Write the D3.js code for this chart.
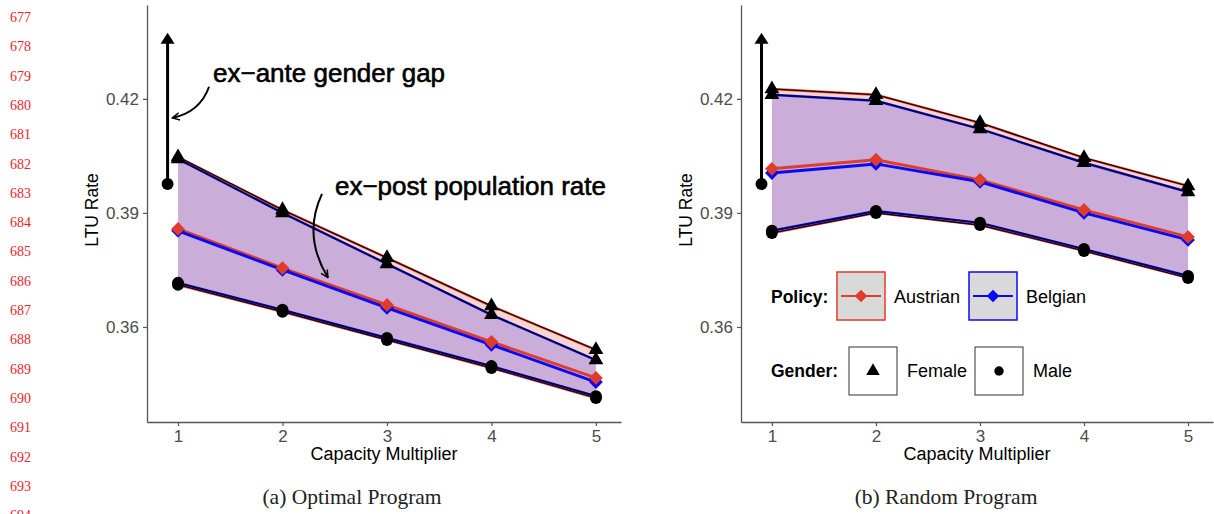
<html>
<head>
  <title>LTU rate by capacity multiplier</title>
  <script src="https://d3js.org/d3.v7.min.js"></script>
  <style>
  body { margin: 0; background: #fff; }
  text { font-family: "Liberation Sans", Arial, sans-serif; }
  </style>
</head>
<body>
<script>

// ---- data ----
var capacity = [1, 2, 3, 4, 5];
var yTicks = [0.36, 0.39, 0.42];
var lineNumbers = d3.range(677, 695);

// (a) Optimal Program
var optFemaleAus = [0.4047, 0.3908, 0.3782, 0.3655, 0.3540];
var optFemaleBel = [0.4042, 0.3900, 0.3766, 0.3632, 0.3513];
var optPopAus    = [0.3858, 0.3755, 0.3658, 0.3561, 0.3466];
var optPopBel    = [0.3853, 0.3750, 0.3650, 0.3553, 0.3455];
var optMaleAus   = [0.3711, 0.3640, 0.3566, 0.3492, 0.3413];
var optMaleBel   = [0.3716, 0.3645, 0.3571, 0.3497, 0.3418];

// (b) Random Program
var rndFemaleAus = [0.4226, 0.4211, 0.4137, 0.4045, 0.3971];
var rndFemaleBel = [0.4211, 0.4195, 0.4121, 0.4032, 0.3955];
var rndPopAus    = [0.4016, 0.4040, 0.3987, 0.3908, 0.3837];
var rndPopBel    = [0.4005, 0.4029, 0.3982, 0.3900, 0.3829];
var rndMaleAus   = [0.3847, 0.3900, 0.3868, 0.3800, 0.3729];
var rndMaleBel   = [0.3853, 0.3905, 0.3874, 0.3805, 0.3734];

// ex-ante gender gap arrow (x, from, to)
var gapX = 0.9, gapFrom = 0.3976, gapTo = 0.4374;

var policies = ['Austrian', 'Belgian'];
var genders = ['Female', 'Male'];

var width = 1214, height = 514;
var red = '#e03c2c', blue = '#0a0af0';

var svg = d3.select('body').append('svg')
  .attr('width', width).attr('height', height);

var defs = svg.append('defs');
defs.append('marker')
  .attr('id', 'openhead')
  .attr('viewBox', '0 0 10 10').attr('refX', 9).attr('refY', 5)
  .attr('markerWidth', 9).attr('markerHeight', 9)
  .attr('markerUnits', 'userSpaceOnUse')
  .attr('orient', 'auto')
  .append('path').attr('d', 'M1,1 L9,5 L1,9')
  .attr('fill', 'none').attr('stroke', '#000').attr('stroke-width', 1.6);

// red line numbers down the margin
svg.append('g').selectAll('text')
  .data(lineNumbers).enter().append('text')
  .attr('x', 10)
  .attr('y', function(d, i) { return 22 + i * 29.3; })
  .style('font-family', '"Liberation Serif", "DejaVu Serif", serif')
  .style('font-size', '14px')
  .attr('fill', '#e8262b')
  .text(function(d) { return d; });

var y = d3.scaleLinear().domain([0.335, 0.4447]).range([422, 5]);

function drawPanel(opt) {
  var x = d3.scaleLinear().domain([0.703, 5.24]).range([opt.left, opt.right]);
  var g = svg.append('g');

  var series = [
    { name: 'Austrian', color: red, fill: red, alpha: 0.22, fem: opt.femAus, male: opt.maleAus, pop: opt.popAus },
    { name: 'Belgian', color: blue, fill: '#0000ff', alpha: 0.18, fem: opt.femBel, male: opt.maleBel, pop: opt.popBel }
  ];

  var area = d3.area()
    .x(function(d, i) { return x(capacity[i]); })
    .y0(function(d) { return y(d[1]); })
    .y1(function(d) { return y(d[0]); });
  var line = d3.line()
    .x(function(d, i) { return x(capacity[i]); })
    .y(function(d) { return y(d); });

  // ribbons between female and male rates
  series.forEach(function(s) {
    g.append('path')
      .datum(s.fem.map(function(v, i) { return [v, s.male[i]]; }))
      .attr('d', area)
      .attr('fill', s.fill).attr('fill-opacity', s.alpha);
  });
  // female / male edge lines
  series.forEach(function(s) {
    [s.fem, s.male].forEach(function(arr) {
      g.append('path').datum(arr).attr('d', line)
        .attr('fill', 'none').attr('stroke', s.color).attr('stroke-width', 2.4);
      g.append('path').datum(arr).attr('d', line)
        .attr('fill', 'none').attr('stroke', '#000').attr('stroke-width', 1.1);
    });
  });
  // population lines
  series.forEach(function(s) {
    g.append('path').datum(s.pop).attr('d', line)
      .attr('fill', 'none').attr('stroke', s.color).attr('stroke-width', 3);
  });
  var diamond = d3.symbol().type(d3.symbolSquare).size(95);
  series.slice().reverse().forEach(function(s) {
    g.selectAll(null).data(s.pop).enter().append('path')
      .attr('d', diamond)
      .attr('transform', function(d, i) { return 'translate(' + x(capacity[i]) + ',' + y(d) + ') rotate(45)'; })
      .attr('fill', s.color);
  });
  var tri = d3.symbol().type(d3.symbolTriangle).size(95);
  series.forEach(function(s) {
    g.selectAll(null).data(s.fem).enter().append('path')
      .attr('d', tri)
      .attr('transform', function(d, i) { return 'translate(' + x(capacity[i]) + ',' + y(d) + ')'; })
      .attr('fill', '#000');
    g.selectAll(null).data(s.male).enter().append('circle')
      .attr('cx', function(d, i) { return x(capacity[i]); })
      .attr('cy', function(d) { return y(d); })
      .attr('r', 6).attr('fill', '#000');
  });

  // ex-ante gender gap arrow
  g.append('line')
    .attr('x1', x(gapX)).attr('x2', x(gapX))
    .attr('y1', y(gapFrom)).attr('y2', y(gapTo) + 10)
    .attr('stroke', '#000').attr('stroke-width', 3);
  g.append('path')
    .attr('d', 'M' + (x(gapX) - 7) + ',' + (y(gapTo) + 11) + 'L' + x(gapX) + ',' + y(gapTo) + 'L' + (x(gapX) + 7) + ',' + (y(gapTo) + 11) + 'Z')
    .attr('fill', '#000');
  g.append('circle').attr('cx', x(gapX)).attr('cy', y(gapFrom)).attr('r', 6).attr('fill', '#000');

  // annotations
  if (opt.annotate) {
    var labels = [
      { text: 'ex\u2212ante gender gap', x: 1.335, y: 0.4245 },
      { text: 'ex\u2212post population rate', x: 2.502, y: 0.3947 }
    ];
    g.selectAll(null).data(labels).enter().append('text')
      .attr('x', function(d) { return x(d.x); })
      .attr('y', function(d) { return y(d.y); })
      .style('font-size', '26px')
      .attr('fill', '#000').attr('stroke', '#000').attr('stroke-width', 0.6)
      .text(function(d) { return d.text; });

    var curves = [
      { from: [1.297, 0.4232], ctrl: [1.21, 0.4165], to: [0.945, 0.415] },
      { from: [2.378, 0.3950], ctrl: [2.19, 0.3840], to: [2.435, 0.3730] }
    ];
    curves.forEach(function(c) {
      var p = d3.path();
      p.moveTo(x(c.from[0]), y(c.from[1]));
      p.quadraticCurveTo(x(c.ctrl[0]), y(c.ctrl[1]), x(c.to[0]), y(c.to[1]));
      g.append('path').attr('d', p.toString())
        .attr('fill', 'none').attr('stroke', '#000').attr('stroke-width', 2)
        .attr('marker-end', 'url(#openhead)');
    });
  }

  // axes
  var yAxis = d3.axisLeft(y).tickValues(yTicks).tickFormat(d3.format('.2f'))
    .tickSize(4).tickSizeOuter(0).tickPadding(4);
  var xAxis = d3.axisBottom(x).tickValues(capacity).tickFormat(d3.format('d'))
    .tickSize(4).tickSizeOuter(0).tickPadding(4);

  var ya = g.append('g').attr('transform', 'translate(' + opt.left + ',0)').call(yAxis);
  var xa = g.append('g').attr('transform', 'translate(0,422)').call(xAxis);
  [ya, xa].forEach(function(a) {
    a.select('.domain').attr('stroke', '#555').attr('stroke-width', 1.3);
    a.selectAll('.tick line').attr('stroke', '#555').attr('stroke-width', 1.2);
    a.selectAll('.tick text').attr('fill', '#4d4d4d')
      .style('font-size', '17px').style('font-family', '"Liberation Sans", Arial, sans-serif');
  });

  g.append('text')
    .attr('transform', 'translate(' + (opt.left - 55) + ',210) rotate(-90)')
    .attr('text-anchor', 'middle').attr('dy', '0.35em')
    .style('font-size', '17.5px').text('LTU Rate');
  g.append('text')
    .attr('x', (opt.left + opt.right) / 2).attr('y', 460)
    .attr('text-anchor', 'middle')
    .style('font-size', '18px').text('Capacity Multiplier');
  g.append('text')
    .attr('x', opt.captionX).attr('y', 504)
    .attr('text-anchor', 'middle')
    .style('font-family', '"Liberation Serif", "DejaVu Serif", serif')
    .style('font-size', '21.5px').attr('fill', '#222')
    .text(opt.caption);

  return { g: g, x: x };
}

drawPanel({
  left: 147, right: 621, captionX: 352, caption: '(a) Optimal Program', annotate: true,
  femAus: optFemaleAus, femBel: optFemaleBel, popAus: optPopAus, popBel: optPopBel,
  maleAus: optMaleAus, maleBel: optMaleBel
});
drawPanel({
  left: 741, right: 1213, captionX: 946, caption: '(b) Random Program', annotate: false,
  femAus: rndFemaleAus, femBel: rndFemaleBel, popAus: rndPopAus, popBel: rndPopBel,
  maleAus: rndMaleAus, maleBel: rndMaleBel
});

// legend inside panel (b)
var legend = svg.append('g');
var policyColors = { Austrian: red, Belgian: blue };

legend.append('text').attr('x', 771).attr('y', 297).attr('dy', '0.35em')
  .style('font-size', '17.5px').style('font-weight', 'bold').text('Policy:');
var pItems = legend.selectAll('g.pol').data(policies).enter().append('g')
  .attr('class', 'pol')
  .attr('transform', function(d, i) { return 'translate(' + (837 + i * 132) + ',272)'; });
pItems.append('rect').attr('width', 48).attr('height', 48)
  .attr('fill', '#d9d9d9')
  .attr('stroke', function(d) { return policyColors[d]; }).attr('stroke-width', 1.5);
pItems.append('line').attr('x1', 4).attr('x2', 44).attr('y1', 24).attr('y2', 24)
  .attr('stroke', function(d) { return policyColors[d]; }).attr('stroke-width', 2);
pItems.append('path')
  .attr('d', d3.symbol().type(d3.symbolSquare).size(80))
  .attr('transform', 'translate(24,24) rotate(45)')
  .attr('fill', function(d) { return policyColors[d]; });
pItems.append('text').attr('x', 57).attr('y', 25).attr('dy', '0.35em')
  .style('font-size', '18px').text(function(d) { return d; });

legend.append('text').attr('x', 771).attr('y', 371).attr('dy', '0.35em')
  .style('font-size', '17.5px').style('font-weight', 'bold').text('Gender:');
var gItems = legend.selectAll('g.gen').data(genders).enter().append('g')
  .attr('class', 'gen')
  .attr('transform', function(d, i) { return 'translate(' + (849 + i * 126) + ',347)'; });
gItems.append('rect').attr('width', 48).attr('height', 48)
  .attr('fill', '#fff').attr('stroke', '#333').attr('stroke-width', 1);
gItems.append('path')
  .attr('d', function(d) {
    return d === 'Female'
      ? d3.symbol().type(d3.symbolTriangle).size(80)()
      : d3.symbol().type(d3.symbolCircle).size(70)();
  })
  .attr('transform', 'translate(24,24)')
  .attr('fill', '#000');
gItems.append('text').attr('x', 58).attr('y', 24).attr('dy', '0.35em')
  .style('font-size', '18px').text(function(d) { return d; });

</script>
</body>
</html>
